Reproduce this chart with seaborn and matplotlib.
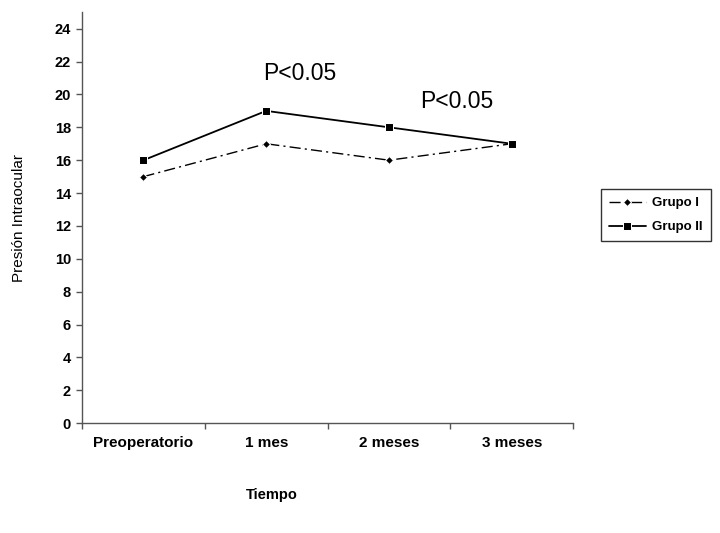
import pandas as pd
import matplotlib.pyplot as plt
import seaborn as sns
from matplotlib.ticker import FixedLocator

# DATA
tiempo = ['Preoperatorio', '1 mes', '2 meses', '3 meses']
grupo_1 = [15, 17, 16, 17]
grupo_2 = [16, 19, 18, 17]
y_ticks = list(range(0, 25, 2))

df = pd.DataFrame({
    'Tiempo': tiempo * 2,
    'Presion': grupo_1 + grupo_2,
    'Grupo': ['Grupo I'] * 4 + ['Grupo II'] * 4,
})

sns.set_style('white')
plt.rcParams['font.family'] = ['Liberation Sans', 'DejaVu Sans']
plt.rcParams['text.color'] = 'black'
plt.rcParams['axes.labelcolor'] = 'black'
plt.rcParams['xtick.labelcolor'] = 'black'
plt.rcParams['ytick.labelcolor'] = 'black'

fig = plt.figure(figsize=(7.2, 5.33), dpi=100)
ax = fig.add_axes([0.114, 0.206, 0.682, 0.771])

sns.lineplot(
    data=df[df['Grupo'] == 'Grupo I'],
    x='Tiempo', y='Presion',
    color='black', linewidth=1, marker='D', markersize=4,
    ax=ax, label='Grupo I', sort=False
)
ax.lines[-1].set_linestyle((0, (8, 3, 1.5, 3)))

sns.lineplot(
    data=df[df['Grupo'] == 'Grupo II'],
    x='Tiempo', y='Presion',
    color='black', linewidth=1.3, marker='s', markersize=5.5,
    ax=ax, label='Grupo II', sort=False
)

# AXES
ax.set_xlim(-0.5, 3.5)
ax.set_ylim(0, 25)
ax.set_yticks(y_ticks)
ax.set_yticklabels([str(t) for t in y_ticks], fontweight='bold', fontsize=10.5)
ax.set_xticks(range(len(tiempo)))
ax.set_xticklabels(tiempo, fontweight='bold', fontsize=11)
ax.xaxis.set_minor_locator(FixedLocator([-0.5, 0.5, 1.5, 2.5, 3.5]))
ax.tick_params(axis='x', which='major', length=0, pad=9)
ax.tick_params(axis='x', which='minor', length=4, width=1, color='#555555', direction='out', bottom=True)
ax.tick_params(axis='y', length=4, width=1, color='#555555', direction='out', left=True, pad=4)

for side in ['top', 'right']:
    ax.spines[side].set_visible(False)
for side in ['left', 'bottom']:
    ax.spines[side].set_color('#555555')
    ax.spines[side].set_linewidth(1)

ax.set_xlabel('')
ax.set_ylabel('Presión Intraocular', fontsize=11)
ax.yaxis.set_label_coords(-0.115, 0.5)
fig.text(272 / 720, 1 - 495 / 533, 'Tiempo', fontweight='bold', fontsize=10.5, ha='center', va='center')

# ANNOTATIONS
ax.text(1.27, 21.3, 'P<0.05', fontsize=16.5, ha='center', va='center')
ax.text(2.55, 19.6, 'P<0.05', fontsize=16.5, ha='center', va='center')

# LEGEND
leg = ax.legend(
    loc='center left', bbox_to_anchor=(1.043, 0.506),
    frameon=True, fancybox=False, edgecolor='black',
    prop={'weight': 'bold', 'size': 9.5}, handlelength=2.8,
    borderpad=0.6, labelspacing=0.9, handletextpad=0.5
)
leg.get_frame().set_linewidth(1)

fig.savefig('out.png', dpi=100)
